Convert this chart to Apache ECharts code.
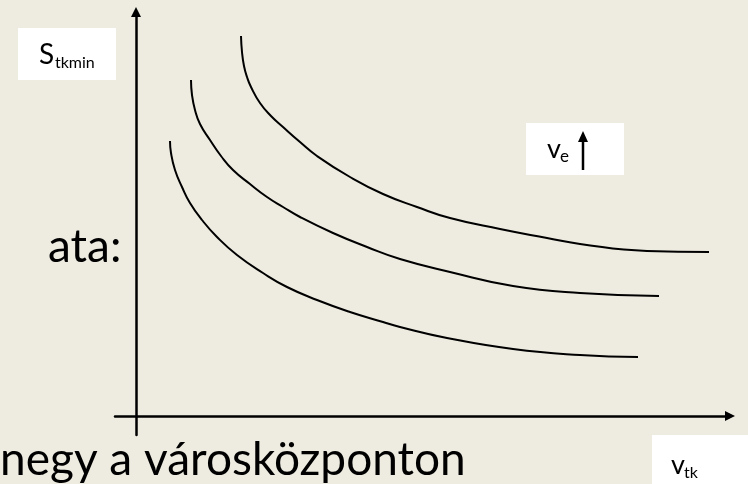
<!DOCTYPE html>
<html>
<head>
<meta charset="utf-8">
<script src="https://cdn.jsdelivr.net/npm/echarts@6/dist/echarts.min.js"></script>
<style>
  html, body { margin: 0; padding: 0; background: #eeece1; }
  #chart { width: 748px; height: 484px; }
</style>
</head>
<body>
<div id="chart"></div>
<script>
// curves (arbitrary units, origin where the axes cross)
const innerX = [3.4, 3.5, 3.9, 4.6, 5.4, 6.6, 8.1, 10.1, 12.7, 15.1, 18.1, 21.4, 24.7, 26.4, 31.1, 37.7, 44.4, 50.2]
const innerY = [27.5, 26.3, 24.6, 22.9, 21.3, 19.6, 17.9, 16.1, 14.3, 12.9, 11.6, 10.4, 9.4, 8.9, 7.8, 6.7, 6.1, 5.9]

const middleX = [5.5, 5.6, 5.9, 6.4, 7.4, 8.5, 9.7, 11.4, 13.1, 14.7, 16.4, 19.7, 23.1, 26.4, 31.4, 37.7, 44.4, 52.3]
const middleY = [33.6, 32.1, 30.6, 29.2, 27.6, 26.0, 24.6, 23.2, 21.9, 20.9, 19.9, 18.3, 16.9, 15.7, 14.4, 13.0, 12.3, 12.0]

const outerX = [10.5, 10.6, 10.8, 11.1, 11.5, 12.4, 13.5, 14.7, 16.4, 18.1, 21.4, 24.7, 28.1, 31.4, 36.4, 41.1, 44.4, 51.1, 57.3]
const outerY = [38.0, 36.4, 35.0, 33.9, 32.9, 31.3, 30.0, 28.9, 27.4, 26.0, 23.9, 22.2, 20.9, 19.8, 18.7, 17.8, 17.2, 16.5, 16.4]

const yLabel = ['S', 'tkmin']
const xLabel = ['v', 'tk']
const paramLabel = ['v', 'e']

const font = 'Lato, "Noto Sans", sans-serif'

function pairs(xs, ys) {
  return xs.map((x, i) => [x, ys[i]])
}

function curve(name, xs, ys) {
  return {
    name: name,
    type: 'line',
    data: pairs(xs, ys),
    smooth: 0.5,
    symbol: 'none',
    clip: false,
    lineStyle: { color: '#000000', width: 2 }
  }
}

const axisLine = {
  onZero: true,
  symbol: ['none', 'triangle'],
  symbolSize: [10, 10],
  lineStyle: { color: '#000000', width: 2.5 }
}

const chart = echarts.init(document.getElementById('chart'))
chart.setOption({
  backgroundColor: '#eeece1',
  animation: false,
  grid: {
    left: 115,
    right: 18,
    top: 12,
    bottom: 49
  },
  xAxis: {
    type: 'value',
    min: -2.1,
    max: 59.4,
    axisLine: axisLine,
    axisTick: { show: false },
    axisLabel: { show: false },
    splitLine: { show: false }
  },
  yAxis: {
    type: 'value',
    min: -1.9,
    max: 40.4,
    axisLine: axisLine,
    axisTick: { show: false },
    axisLabel: { show: false },
    splitLine: { show: false }
  },
  graphic: [
    // slide text behind the picture
    {
      type: 'text', left: 48, top: 224, z: -1,
      style: { text: 'ata:', font: '46px ' + font, fill: '#000000' }
    },
    {
      type: 'text', left: 0, top: 437, z: -1,
      style: { text: 'negy a városközponton', font: '46px ' + font, fill: '#000000' }
    },
    // label boxes
    {
      type: 'rect', shape: { x: 18, y: 28, width: 98, height: 52 },
      style: { fill: '#ffffff' }
    },
    {
      type: 'text', x: 39, y: 41,
      style: { text: yLabel[0], font: '28px ' + font, fill: '#000000' }
    },
    {
      type: 'text', x: 55, y: 55,
      style: { text: yLabel[1], font: '16px ' + font, fill: '#000000' }
    },
    {
      type: 'rect', shape: { x: 526, y: 123, width: 98, height: 52 },
      style: { fill: '#ffffff' }
    },
    {
      type: 'text', x: 547, y: 136,
      style: { text: paramLabel[0], font: '27px ' + font, fill: '#000000' }
    },
    {
      type: 'text', x: 560, y: 148,
      style: { text: paramLabel[1], font: '17px ' + font, fill: '#000000' }
    },
    {
      type: 'line', shape: { x1: 583, y1: 170, x2: 583, y2: 140 },
      style: { stroke: '#000000', lineWidth: 2.5 }
    },
    {
      type: 'polygon', shape: { points: [[583, 131], [588, 142], [578, 142]] },
      style: { fill: '#000000' }
    },
    {
      type: 'rect', shape: { x: 652, y: 435, width: 96, height: 49 },
      style: { fill: '#ffffff' }
    },
    {
      type: 'text', x: 671, y: 452,
      style: { text: xLabel[0], font: '27px ' + font, fill: '#000000' }
    },
    {
      type: 'text', x: 684, y: 465,
      style: { text: xLabel[1], font: '16px ' + font, fill: '#000000' }
    }
  ],
  series: [
    curve('inner', innerX, innerY),
    curve('middle', middleX, middleY),
    curve('outer', outerX, outerY)
  ]
})
</script>
</body>
</html>
